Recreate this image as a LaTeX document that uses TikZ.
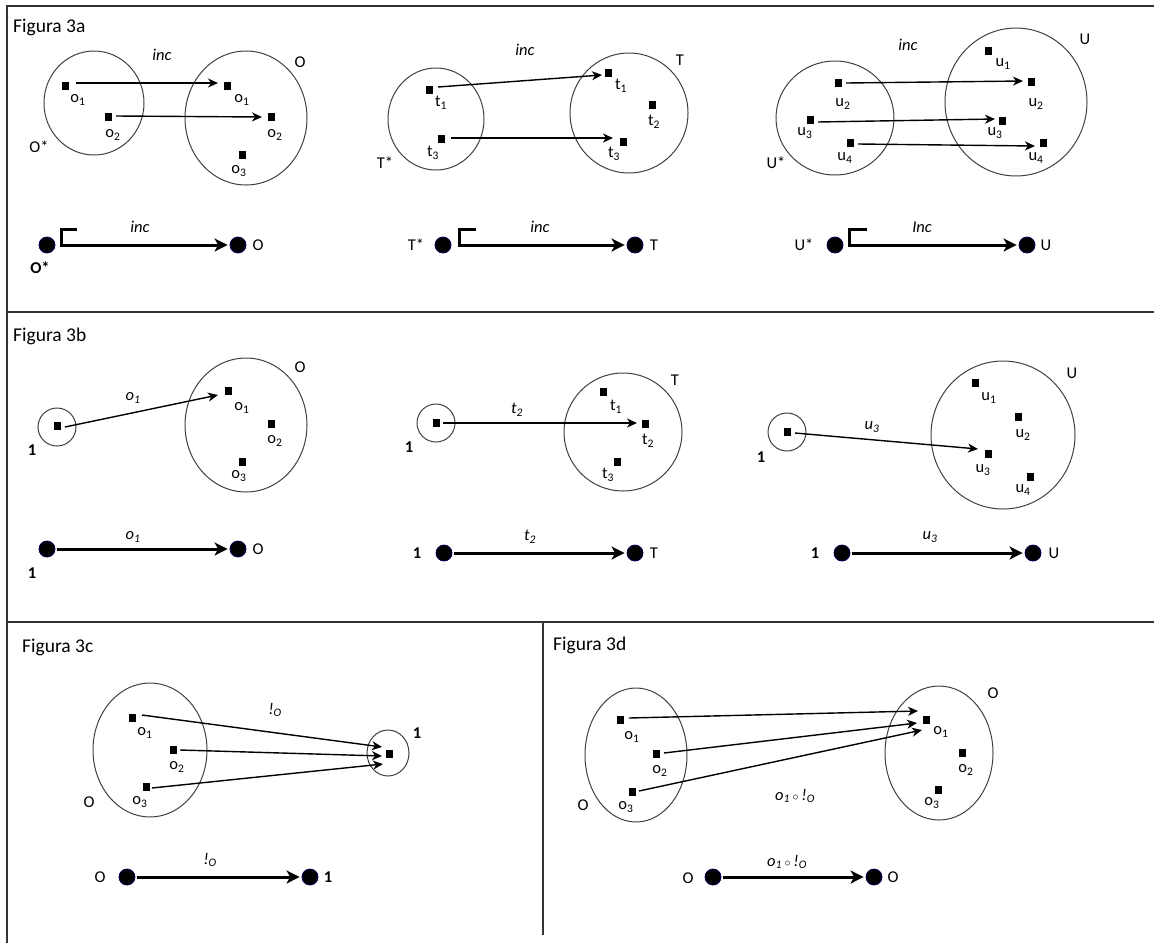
\documentclass[tikz,border=0pt]{standalone}
\usepackage{fontspec}
\setmainfont{Carlito}
\usetikzlibrary{arrows.meta,shapes.geometric,calc}

\tikzset{
  frame/.style={line width=1.3pt, draw=black!80},
  setring/.style={draw=black!75, line width=1pt, ellipse, inner sep=0pt, outer sep=0pt},
  elem/.style={rectangle, fill=black, minimum width=7pt, minimum height=8pt, inner sep=0pt},
  lbl/.style={font=\fontsize{16.5}{18}\selectfont, inner sep=0pt},
  ital/.style={font=\fontsize{16.5}{18}\selectfont\itshape, inner sep=0pt},
  bld/.style={font=\fontsize{16.5}{18}\selectfont\bfseries, inner sep=0pt},
  ttl/.style={font=\fontsize{19.5}{22}\selectfont, anchor=west, inner sep=0pt},
  obj/.style={circle, fill=black, draw=blue!35!black, line width=0.8pt, minimum size=16pt, inner sep=0pt},
  mapto/.style={line width=1.4pt, -{Stealth[length=10pt,width=9pt,inset=3pt]}},
  morph/.style={line width=3pt, -{Stealth[length=13pt,width=13pt,inset=3.5pt]}, shorten <=2pt, shorten >=2pt},
  hookmorph/.style={line width=3pt, -{Stealth[length=13pt,width=13pt,inset=3.5pt]}, shorten >=2pt},
}

\begin{document}
\begin{tikzpicture}[x=1pt,y=-1pt]
\useasboundingbox (0,0) rectangle (1154,943);

% ---------- frame ----------
\coordinate (fTL) at (7,6);
\coordinate (fTR) at (1154,6);
\coordinate (fBL) at (7,943);
\coordinate (r1L) at (7,312);
\coordinate (r1R) at (1154,312);
\coordinate (r2L) at (7,622);
\coordinate (r2R) at (1154,622);
\coordinate (vT) at (543,622);
\coordinate (vB) at (543,935);
\draw[frame] (fTR) -- (fTL) -- (fBL);
\draw[frame] (r1L) -- (r1R);
\draw[frame] (r2L) -- (r2R);
\draw[frame] (vT) -- (vB);

% ================= Figura 3a =================
\node[ttl] (t3a) at (13,27) {Figura 3a};

% O* into O
\node[setring, minimum width=100pt, minimum height=104pt] (sOs) at (94,103) {};
\node[setring, minimum width=122pt, minimum height=134pt] (sO) at (246,118) {};
\node[elem] (aO1) at (65,86) {};
\node[elem] (aO2) at (108,117) {};
\node[elem] (bO1) at (227,86) {};
\node[elem] (bO2) at (271,117) {};
\node[elem] (bO3) at (242,155) {};
\node[lbl] (laO1) at (78,100) {o\textsubscript{1}};
\node[lbl] (laO2) at (113,135) {o\textsubscript{2}};
\node[lbl] (lbO1) at (242,100) {o\textsubscript{1}};
\node[lbl] (lbO2) at (275,135) {o\textsubscript{2}};
\node[lbl] (lbO3) at (239,171) {o\textsubscript{3}};
\node[ital] (incA) at (162,55) {inc};
\node[lbl] (nO) at (300,62) {O};
\node[lbl] (nOs) at (39,147) {O*};
\draw[mapto] ($(aO1)+(11,-3)$) -- ($(bO1)+(-9,-3)$);
\draw[mapto] ($(aO2)+(8,-1)$) -- ($(bO2)+(-9,0)$);

\node[obj] (dOs) at (47,245) {};
\node[obj] (dO) at (238,245) {};
\node[bld] (ldOs) at (40,268) {O*};
\node[lbl] (ldO) at (258,245) {O};
\node[ital] (lincA) at (140,227) {inc};
\coordinate (hA) at (77,229);
\draw[hookmorph] (hA) -- ++(-16,0) |- (dO);

% T* into T
\node[setring, minimum width=96pt, minimum height=102pt] (sTs) at (436,119) {};
\node[setring, minimum width=118pt, minimum height=120pt] (sT) at (629,113) {};
\node[elem] (lt1) at (429,90) {};
\node[elem] (lt3) at (441,139) {};
\node[elem] (rt1) at (608,73) {};
\node[elem] (rt2) at (652,105) {};
\node[elem] (rt3) at (623,142) {};
\node[lbl] at (441,103) {t\textsubscript{1}};
\node[lbl] at (433,153) {t\textsubscript{3}};
\node[lbl] at (621,86) {t\textsubscript{1}};
\node[lbl] at (654,122) {t\textsubscript{2}};
\node[lbl] at (614,154) {t\textsubscript{3}};
\node[ital] at (525,50) {inc};
\node[lbl] at (680,60) {T};
\node[lbl] at (385,163) {T*};
\draw[mapto] ($(lt1)+(9,-3)$) -- ($(rt1)+(-6,2)$);
\draw[mapto] ($(lt3)+(10,-1)$) -- ($(rt3)+(-10,-4)$);

\node[obj] (dTs) at (443,245) {};
\node[obj] (dT) at (635,245) {};
\node[lbl] at (416,245) {T*};
\node[lbl] at (654,245) {T};
\node[ital] at (540,227) {inc};
\coordinate (hT) at (476,229);
\draw[hookmorph] (hT) -- ++(-17,0) |- (dT);

% U* into U
\node[setring, minimum width=118pt, minimum height=114pt] (sUs) at (835,118) {};
\node[setring, minimum width=142pt, minimum height=148pt] (sU) at (1016,102) {};
\node[elem] (lu2) at (838,83) {};
\node[elem] (lu3) at (810,120) {};
\node[elem] (lu4) at (850,143) {};
\node[elem] (ru1) at (988,51) {};
\node[elem] (ru2) at (1031,82) {};
\node[elem] (ru3) at (1002,121) {};
\node[elem] (ru4) at (1043,143) {};
\node[lbl] at (843,104) {u\textsubscript{2}};
\node[lbl] at (805,133) {u\textsubscript{3}};
\node[lbl] at (845,158) {u\textsubscript{4}};
\node[lbl] at (1003,64) {u\textsubscript{1}};
\node[lbl] at (1036,104) {u\textsubscript{2}};
\node[lbl] at (995,133) {u\textsubscript{3}};
\node[lbl] at (1036,158) {u\textsubscript{4}};
\node[ital] at (908,45) {inc};
\node[lbl] at (1085,39) {U};
\node[lbl] at (776,163) {U*};
\draw[mapto] ($(lu2)+(8,0)$) -- ($(ru2)+(-8,-1)$);
\draw[mapto] ($(lu3)+(8,2)$) -- ($(ru3)+(-7,-2)$);
\draw[mapto] ($(lu4)+(8,1)$) -- ($(ru4)+(-8,3)$);

\node[obj] (dUs) at (835,245) {};
\node[obj] (dU) at (1027,245) {};
\node[lbl] at (804,245) {U*};
\node[lbl] at (1046,245) {U};
\node[ital] at (922,227) {Inc};
\coordinate (hU) at (867,229);
\draw[hookmorph] (hU) -- ++(-18,0) |- (dU);

% ================= Figura 3b =================
\node[ttl] (t3b) at (13,336) {Figura 3b};

% element o1 of O
\node[setring, minimum size=38pt] (oneA) at (57,427) {};
\node[elem] (pA) at (57,426) {};
\node[bld] at (32,450) {1};
\node[setring, minimum width=122pt, minimum height=134pt] (sOb) at (246,425) {};
\node[lbl] at (300,367) {O};
\node[elem] (bo1) at (228,391) {};
\node[elem] (bo2) at (271,424) {};
\node[elem] (bo3) at (242,462) {};
\node[lbl] at (242,408) {o\textsubscript{1}};
\node[lbl] at (275,441) {o\textsubscript{2}};
\node[lbl] at (239,476) {o\textsubscript{3}};
\node[ital] at (133,398) {o\textsubscript{1}};
\draw[mapto] ($(pA)+(8,1)$) -- ($(bo1)+(-10,4)$);

\node[obj] (eA1) at (47,549) {};
\node[obj] (eAO) at (238,549) {};
\node[lbl] at (258,549) {O};
\node[bld] at (32,573) {1};
\node[ital] at (133,537) {o\textsubscript{1}};
\draw[morph] (eA1) -- (eAO);

% element t2 of T
\node[setring, minimum size=38pt] (oneB) at (436,423) {};
\node[elem] (pB) at (436,423) {};
\node[bld] at (409,447) {1};
\node[setring, minimum width=118pt, minimum height=118pt] (sTb) at (623,432) {};
\node[lbl] at (675,380) {T};
\node[elem] (bt1) at (603,392) {};
\node[elem] (bt2) at (645,424) {};
\node[elem] (bt3) at (617,462) {};
\node[lbl] at (616,407) {t\textsubscript{1}};
\node[lbl] at (648,441) {t\textsubscript{2}};
\node[lbl] at (608,475) {t\textsubscript{3}};
\node[ital] at (517,410) {t\textsubscript{2}};
\draw[mapto] ($(pB)+(7,0)$) -- ($(bt2)+(-8,-1)$);

\node[obj] (eB1) at (444,553) {};
\node[obj] (eBT) at (635,553) {};
\node[bld] at (417,553) {1};
\node[lbl] at (654,553) {T};
\node[ital] at (530,537) {t\textsubscript{2}};
\draw[morph] (eB1) -- (eBT);

% element u3 of U
\node[setring, minimum size=38pt] (oneC) at (787,432) {};
\node[elem] (pC) at (787,432) {};
\node[bld] at (761,457) {1};
\node[setring, minimum width=144pt, minimum height=148pt] (sUb) at (1003,435) {};
\node[lbl] at (1072,373) {U};
\node[elem] (bu1) at (975,383) {};
\node[elem] (bu2) at (1018,417) {};
\node[elem] (bu3) at (988,454) {};
\node[elem] (bu4) at (1030,477) {};
\node[lbl] at (989,398) {u\textsubscript{1}};
\node[lbl] at (1023,435) {u\textsubscript{2}};
\node[lbl] at (983,470) {u\textsubscript{3}};
\node[lbl] at (1023,490) {u\textsubscript{4}};
\node[ital] at (872,427) {u\textsubscript{3}};
\draw[mapto] ($(pC)+(8,1)$) -- ($(bu3)+(-10,-5)$);

\node[obj] (eC1) at (842,553) {};
\node[obj] (eCU) at (1033,553) {};
\node[bld] at (815,553) {1};
\node[lbl] at (1054,553) {U};
\node[ital] at (930,537) {u\textsubscript{3}};
\draw[morph] (eC1) -- (eCU);

% ================= Figura 3c =================
\node[ttl] (t3c) at (22,647) {Figura 3c};
\node[setring, minimum width=114pt, minimum height=134pt] (sOc) at (150,750) {};
\node[lbl] at (89,802) {O};
\node[elem] (co1) at (132,718) {};
\node[elem] (co2) at (173,750) {};
\node[elem] (co3) at (146,787) {};
\node[lbl] at (145,733) {o\textsubscript{1}};
\node[lbl] at (177,767) {o\textsubscript{2}};
\node[lbl] at (140,802) {o\textsubscript{3}};
\node[setring, minimum width=42pt, minimum height=46pt] (oneD) at (388,753) {};
\node[elem] (cp) at (389,754) {};
\node[bld] at (417,733) {1};
\node[ital] at (275,710) {!\textsubscript{O}};
\draw[mapto] ($(co1)+(10,-3)$) -- ($(cp)+(-7,-7)$);
\draw[mapto] ($(co2)+(7,0)$) -- ($(cp)+(-7,2)$);
\draw[mapto] ($(co3)+(6,1)$) -- ($(cp)+(-6,10)$);

\node[obj] (fO) at (127,877) {};
\node[obj] (f1) at (310,877) {};
\node[lbl] at (100,877) {O};
\node[bld] at (328,877) {1};
\node[ital] at (210,860) {!\textsubscript{O}};
\draw[morph] (fO) -- (f1);

% ================= Figura 3d =================
\node[ttl] (t3d) at (553,645) {Figura 3d};
\node[setring, minimum width=102pt, minimum height=134pt] (sOd) at (636,755) {};
\node[lbl] at (583,805) {O};
\node[elem] (do1) at (620,720) {};
\node[elem] (do2) at (656,754) {};
\node[elem] (do3) at (632,792) {};
\node[lbl] at (632,737) {o\textsubscript{1}};
\node[lbl] at (660,771) {o\textsubscript{2}};
\node[lbl] at (626,807) {o\textsubscript{3}};
\node[setring, minimum width=108pt, minimum height=134pt] (sOe) at (939,753) {};
\node[lbl] at (993,693) {O};
\node[elem] (eo1) at (926,720) {};
\node[elem] (eo2) at (962,753) {};
\node[elem] (eo3) at (938,790) {};
\node[lbl] at (941,732) {o\textsubscript{1}};
\node[lbl] at (966,770) {o\textsubscript{2}};
\node[lbl] at (932,803) {o\textsubscript{3}};
\node[ital] at (795,796) {o\textsubscript{1}\,{\upshape$\scriptstyle\circ$}\,!\textsubscript{O}};
\draw[mapto] ($(do1)+(9,-2)$) -- ($(eo1)+(-8,-9)$);
\draw[mapto] ($(do2)+(8,-1)$) -- ($(eo1)+(-9,3)$);
\draw[mapto] ($(do3)+(7,-1)$) -- ($(eo1)+(-4,10)$);

\node[obj] (gO) at (713,877) {};
\node[obj] (gO2) at (874,877) {};
\node[lbl] at (688,878) {O};
\node[lbl] at (893,877) {O};
\node[ital] at (787,862) {o\textsubscript{1}\,{\upshape$\scriptstyle\circ$}\,!\textsubscript{O}};
\draw[morph] (gO) -- (gO2);

\end{tikzpicture}
\end{document}
